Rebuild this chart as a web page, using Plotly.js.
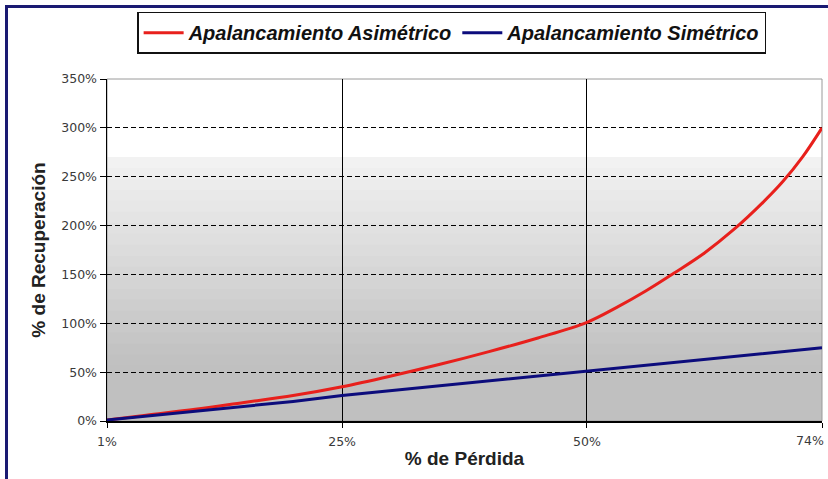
<!DOCTYPE html>
<html>
<head>
<meta charset="utf-8">
<script src="https://cdn.plot.ly/plotly-3.0.1.min.js"></script>
<style>
  html, body { margin: 0; padding: 0; background: #ffffff; overflow: hidden; }
  #wrap { position: relative; width: 828px; height: 479px; overflow: hidden; }
  #chart { position: absolute; left: 0; top: 0; width: 828px; height: 479px; }
  #frame { position: absolute; left: 5px; top: 5px; width: 900px; height: 600px;
           border: 3px solid #1a1a72; pointer-events: none; }
</style>
</head>
<body>
<div id="wrap">
  <div id="chart"></div>
  <div id="frame"></div>
</div>
<script>
// % de Pérdida (x)
const lossPct = [1, 5, 10, 15, 20, 25, 30, 35, 40, 45, 50, 53, 56, 59, 62, 65, 68, 70, 72, 74];
// Apalancamiento Asimétrico (% de Recuperación)
const asymRecovery = [1, 6, 12, 19, 26, 35, 46, 58, 71, 85, 101, 116, 133, 152, 172, 196, 224, 245, 270, 300];
// Apalancamiento Simétrico (% de Recuperación)
const symRecovery = [1, 5, 10, 15, 20, 26, 31, 36, 41, 46, 51, 54, 57, 60, 63, 66, 69, 71, 73, 75];

const seriesNames = ['Apalancamiento Asimétrico', 'Apalancamiento Simétrico'];
const xTickVals = [1, 25, 50, 74];
const xTickText = ['1%', '25%', '50%', '74%'];
const yTickVals = [0, 50, 100, 150, 200, 250, 300, 350];
const yTickText = ['0%', '50%', '100%', '150%', '200%', '250%', '300%', '350%'];

const lastIdx = xTickVals.length - 1;
// main axis carries every tick mark, the last label sits on an overlay axis, pulled inward
const xTickTextMain = xTickText.map((t, i) => (i === lastIdx ? '' : t));

// vertical background gradient bands (white at top, grey at the bottom)
const bandStops = [[0.77, 1.00, '#ffffff']];
const nBands = 24;
const gTop = 0.77, gBot = 0.0;
for (let i = 0; i < nBands; i++) {
  const y1 = gTop - (gTop - gBot) * i / nBands;
  const y0 = gTop - (gTop - gBot) * (i + 1) / nBands;
  const t = Math.min(1, (i + 0.5) / (nBands * 0.78));
  const v = Math.round(243 - (243 - 192) * t);
  const h = v.toString(16).padStart(2, '0');
  bandStops.push([y0, y1 + 0.002, '#' + h + h + h]);
}
const shapes = bandStops.map(b => ({
  type: 'rect', xref: 'paper', yref: 'paper', x0: 0, x1: 1, y0: b[0], y1: b[1],
  fillcolor: b[2], line: { width: 0 }, layer: 'below'
}));
shapes.push({
  type: 'rect', xref: 'paper', yref: 'paper', x0: 0, x1: 1, y0: 0, y1: 1,
  fillcolor: 'rgba(0,0,0,0)', line: { color: '#9a9a9a', width: 1 }, layer: 'below'
});

const traces = [
  {
    x: lossPct, y: asymRecovery, name: seriesNames[0], type: 'scatter', mode: 'lines',
    line: { color: '#e8201c', width: 3, shape: 'spline', smoothing: 1 }, cliponaxis: false
  },
  {
    x: lossPct, y: symRecovery, name: seriesNames[1], type: 'scatter', mode: 'lines',
    line: { color: '#0c0c7c', width: 3 }, cliponaxis: false
  },
  {
    x: [], y: [], xaxis: 'x2', yaxis: 'y', showlegend: false, hoverinfo: 'skip',
    type: 'scatter', mode: 'lines'
  }
];

const tickFont = { family: 'DejaVu Sans, Liberation Sans, sans-serif', size: 12.5, color: '#3a3a3a' };
const titleFont = { family: 'Liberation Sans, Arial, sans-serif', size: 19, color: '#222222', weight: 'bold' };

const layout = {
  width: 828, height: 479,
  margin: { l: 107, r: 6, t: 79, b: 58, pad: 0 },
  paper_bgcolor: '#ffffff',
  plot_bgcolor: 'rgba(0,0,0,0)',
  showlegend: true,
  legend: {
    orientation: 'h', xref: 'paper', yref: 'paper',
    x: 0.482, xanchor: 'center', y: 1.197, yanchor: 'top',
    bgcolor: '#ffffff', bordercolor: '#111111', borderwidth: 1.5,
    font: { family: 'Liberation Sans, Arial, sans-serif', size: 20, color: '#111111', style: 'italic', weight: 'bold' },
    itemwidth: 40, tracegroupgap: 0
  },
  xaxis: {
    range: [1, 74], tickmode: 'array', tickvals: xTickVals, ticktext: xTickTextMain,
    showgrid: true, gridcolor: '#000000', gridwidth: 1,
    showline: true, linecolor: '#000000', linewidth: 1.5,
    ticks: 'outside', ticklen: 5, tickcolor: '#000000', tickwidth: 1,
    tickfont: tickFont, zeroline: false, ticklabelstandoff: 3,
    title: { text: '% de Pérdida', font: titleFont, standoff: 4 },
    fixedrange: true
  },
  xaxis2: {
    range: [1, 74], overlaying: 'x', anchor: 'y', side: 'bottom',
    tickmode: 'array', tickvals: [xTickVals[lastIdx]], ticktext: [xTickText[lastIdx]],
    ticks: 'outside', ticklen: 5, tickcolor: 'rgba(0,0,0,0)',
    ticklabelshift: -12, ticklabelstandoff: 3, ticklabeloverflow: 'allow',
    showgrid: false, showline: false, zeroline: false,
    tickfont: tickFont, fixedrange: true
  },
  yaxis: {
    range: [0, 350], tickmode: 'array', tickvals: yTickVals, ticktext: yTickText,
    showgrid: true, gridcolor: '#000000', gridwidth: 1, griddash: '5px,3px',
    showline: true, linecolor: '#000000', linewidth: 1.5,
    ticks: 'outside', ticklen: 6, tickcolor: '#000000', tickwidth: 1,
    tickfont: tickFont, zeroline: false,
    title: { text: '% de Recuperación', font: titleFont, standoff: 10 },
    fixedrange: true
  },
  shapes: shapes
};

Plotly.newPlot('chart', traces, layout, { displayModeBar: false, staticPlot: true });
</script>
</body>
</html>
